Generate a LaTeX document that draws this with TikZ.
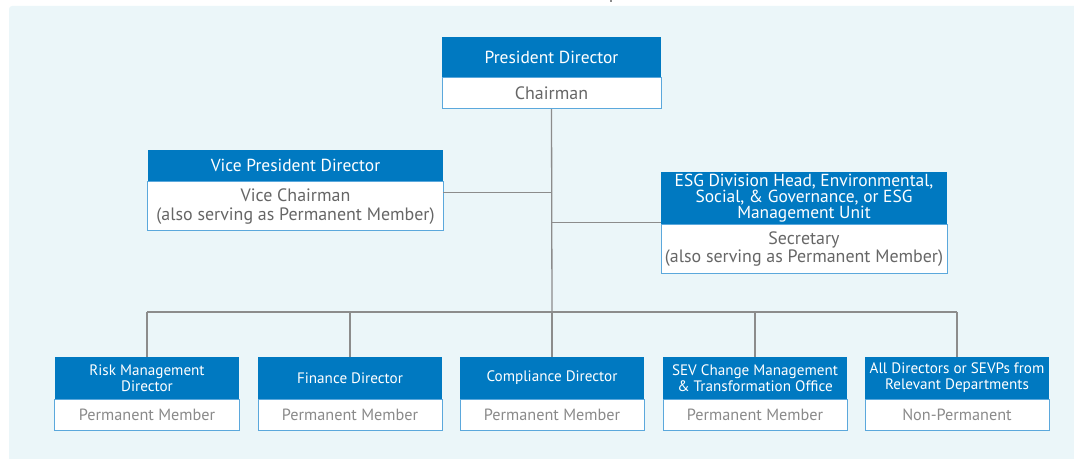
\documentclass[tikz,border=0pt]{standalone}
\usepackage{fontspec}
\setmainfont{PT Sans}
\definecolor{bgc}{HTML}{EBF6F9}
\definecolor{hdrblue}{HTML}{0079C1}
\definecolor{edgeblue}{HTML}{5BA8DC}
\definecolor{txtgray}{HTML}{666666}
\definecolor{lightgray}{HTML}{8A8A8A}
\definecolor{linegray}{HTML}{8C8C8C}
\begin{document}
\begin{tikzpicture}[x=1bp,y=-1bp,
  hdr/.style={fill=hdrblue,text=white,inner sep=0pt,align=center,anchor=center},
  bodybox/.style={draw=edgeblue,line width=1bp,fill=white,text=txtgray,inner sep=0pt,align=center,anchor=north},
  conn/.style={draw=linegray,line width=1.3bp},
  bigfont/.style={font=\fontsize{17.5}{19}\selectfont},
  bodyfont/.style={font=\fontsize{18}{19}\selectfont},
  smallfont/.style={font=\fontsize{15.2}{16}\selectfont},
  lowfont/.style={font=\fontsize{16.3}{18}\selectfont}
]
\useasboundingbox (0,0) rectangle (1074,459);
\fill[bgc,rounded corners=3bp] (9,6) rectangle (1090,470);
\draw[linegray,line width=1.3bp] (611,0) -- (611,2.5);

% President
\node[hdr,bigfont,minimum width=219bp,minimum height=40bp] (ph) at (551.5,57) {President Director};
\node[bodybox,bodyfont,minimum width=219bp,minimum height=31bp] (pb) at (ph.south) {Chairman};

% Vice President
\node[hdr,bigfont,minimum width=295bp,minimum height=31bp] (vh) at (295.5,165.5) {Vice President Director};
\node[bodybox,bodyfont,minimum width=295bp,minimum height=49bp] (vb) at (vh.south) {Vice Chairman\\(also serving as Permanent Member)};

% ESG
\node[hdr,minimum width=286bp,minimum height=52bp,font=\fontsize{17.5}{16}\selectfont] (eh) at (804,198) {ESG Division Head, Environmental,\\Social, \& Governance, or ESG\\Management Unit};
\node[bodybox,minimum width=286bp,minimum height=49bp,font=\fontsize{18}{17.5}\selectfont] (eb) at (eh.south) {Secretary\\(also serving as Permanent Member)};

% Bottom row
\foreach \n/\x/\t/\b in {r/147/{Risk Management\\Director}/{Permanent Member},
                         f/350/{Finance Director}/{Permanent Member},
                         c/552/{Compliance Director}/{Permanent Member},
                         s/755/{SEV Change Management\\\& Transformation Office}/{Permanent Member},
                         a/957/{All Directors or SEVPs from\\Relevant Departments}/{Non-Permanent}}{
  \node[hdr,smallfont,minimum width=184bp,minimum height=42bp] (\n h) at (\x,378) {\t};
  \node[bodybox,lowfont,text=lightgray,minimum width=184bp,minimum height=31bp] (\n b) at (\n h.south) {\b};
}

% Connectors
\coordinate (bus) at (552,312);
\coordinate (vjoin) at ([yshift=-11bp]vh.south east);
\coordinate (ejoin) at ([yshift=2bp]eh.south west);
\draw[conn] (pb.south) -- (bus);
\draw[conn] (vjoin) -- (pb.south |- vjoin);
\draw[conn] (ejoin) -- (pb.south |- ejoin);
\draw[conn] (rh.north |- bus) -- (ah.north |- bus);
\foreach \n in {r,f,c,s,a}{
  \draw[conn] (\n h.north |- bus) -- (\n h.north);
}
\end{tikzpicture}
\end{document}
